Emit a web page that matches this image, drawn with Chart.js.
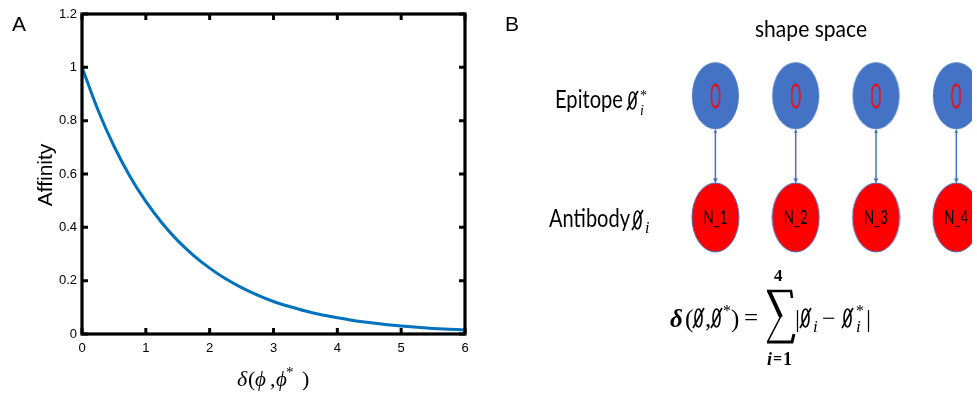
<!DOCTYPE html>
<html>
<head>
<meta charset="utf-8">
<script src="https://cdn.jsdelivr.net/npm/chart.js@4"></script>
<style>
  body { margin: 0; background: #fff; width: 977px; height: 394px; overflow: hidden; position: relative; }
  #boxA { position: absolute; left: 0; top: 0; width: 490px; height: 394px; }
  #boxB { position: absolute; left: 490px; top: 0; width: 487px; height: 394px; }
</style>
</head>
<body>
<div id="boxA"><canvas id="chartA" width="490" height="394"></canvas></div>
<div id="boxB"><canvas id="chartB" width="487" height="394"></canvas></div>
<script>
// panel A: affinity vs distance
const delta = [0, 0.25, 0.5, 0.75, 1, 1.25, 1.5, 1.75, 2, 2.25, 2.5, 2.75, 3,
  3.25, 3.5, 3.75, 4, 4.25, 4.5, 4.75, 5, 5.25, 5.5, 5.75, 6];
const affinity = [1.0, 0.84, 0.705, 0.592, 0.497, 0.417, 0.35, 0.294, 0.247, 0.207, 0.174, 0.146, 0.122,
  0.103, 0.086, 0.072, 0.061, 0.051, 0.043, 0.036, 0.03, 0.025, 0.021, 0.018, 0.015];
const xTicks = [0, 1, 2, 3, 4, 5, 6];
const yTicks = [0, 0.2, 0.4, 0.6, 0.8, 1, 1.2];

// panel B: shape space nodes
const nodes = [1, 2, 3, 4];
const epitopeRow = [1, 1, 1, 1];
const antibodyRow = [0, 0, 0, 0];
const epitopeText = ["0", "0", "0", "0"];
const antibodyText = ["N_1", "N_2", "N_3", "N_4"];

const SANS = '"Liberation Sans", Arial, sans-serif';
const SERIF = '"Liberation Serif", "DejaVu Serif", serif';
const CAL = 'Lato, "Open Sans", sans-serif';

// draw text squeezed to a given width (Calibri-like look)
function fitText(ctx, text, x, y, w, font, align) {
  ctx.font = font;
  const s = w / ctx.measureText(text).width;
  ctx.save();
  ctx.translate(x, y);
  ctx.scale(s, 1);
  ctx.textAlign = align || "left";
  ctx.fillText(text, 0, 0);
  ctx.restore();
}

// slashed empty-set sign
function drawEmpty(ctx, x, base, w, h) {
  ctx.save();
  ctx.lineWidth = 1.6;
  ctx.beginPath();
  ctx.ellipse(x + w / 2, base - h / 2, w / 2 - 1, h / 2, 0, 0, Math.PI * 2);
  ctx.moveTo(x - 1, base + 1);
  ctx.lineTo(x + w + 1, base - h - 1);
  ctx.stroke();
  ctx.restore();
}

function txt(ctx, t, x, y, font) {
  ctx.font = font;
  ctx.fillText(t, x, y);
}

// ---- chart A ----
const frameA = {
  id: "frameA",
  afterDraw(chart) {
    const { ctx, chartArea: a, scales: { x, y } } = chart;
    ctx.save();
    ctx.strokeStyle = "#000";
    ctx.lineWidth = 3.2;
    ctx.strokeRect(a.left, a.top, a.right - a.left, a.bottom - a.top);
    ctx.lineWidth = 3;
    ctx.beginPath();
    xTicks.forEach(v => {
      const px = x.getPixelForValue(v);
      ctx.moveTo(px, a.bottom); ctx.lineTo(px, a.bottom - 6);
      ctx.moveTo(px, a.top); ctx.lineTo(px, a.top + 6);
    });
    yTicks.forEach(v => {
      const py = y.getPixelForValue(v);
      ctx.moveTo(a.left, py); ctx.lineTo(a.left + 6, py);
      ctx.moveTo(a.right, py); ctx.lineTo(a.right - 6, py);
    });
    ctx.stroke();

    ctx.fillStyle = "#000";
    ctx.textBaseline = "alphabetic";
    txt(ctx, "A", 12, 31, "21px " + SANS);

    ctx.save();
    ctx.translate(52, 175);
    ctx.rotate(-Math.PI / 2);
    ctx.textAlign = "center";
    txt(ctx, "Affinity", 0, 0, "21px " + SANS);
    ctx.restore();

    // x title  δ(ϕ,ϕ* )
    const b = 386;
    txt(ctx, "δ", 237, b, "italic 22px " + SERIF);
    txt(ctx, "(", 248, b, "22px " + SERIF);
    txt(ctx, "ϕ", 255, b, "italic 21px " + SERIF);
    txt(ctx, ",", 270, b, "22px " + SERIF);
    txt(ctx, "ϕ", 276, b, "italic 21px " + SERIF);
    txt(ctx, "*", 286, b - 9, "15px " + SERIF);
    txt(ctx, ")", 302, b, "22px " + SERIF);
    ctx.restore();
  }
};

new Chart(document.getElementById("chartA"), {
  type: "line",
  data: {
    datasets: [{
      data: delta.map((d, i) => ({ x: d, y: affinity[i] })),
      borderColor: "#0072BD",
      borderWidth: 3,
      pointRadius: 0,
      cubicInterpolationMode: "monotone",
      fill: false
    }]
  },
  options: {
    responsive: false,
    animation: false,
    events: [],
    layout: { padding: { top: 14, right: 25, left: 0, bottom: 0 } },
    plugins: { legend: { display: false }, tooltip: { enabled: false } },
    scales: {
      x: {
        type: "linear", min: 0, max: 6,
        afterBuildTicks: s => { s.ticks = xTicks.map(v => ({ value: v })); },
        afterFit: s => { s.height = 60; },
        grid: { display: false, drawTicks: false },
        border: { display: false },
        ticks: { padding: 7, color: "#000", maxRotation: 0, font: { family: SANS, size: 13 }, callback: v => String(v) }
      },
      y: {
        min: 0, max: 1.2,
        afterBuildTicks: s => { s.ticks = yTicks.map(v => ({ value: v })); },
        afterFit: s => { s.width = 82; },
        grid: { display: false, drawTicks: false },
        border: { display: false },
        ticks: { padding: 5, color: "#000", font: { family: SANS, size: 13 }, callback: v => String(v) }
      }
    }
  },
  plugins: [frameA]
});

// ---- chart B ----
function ellipseImg(fill, stroke, w, h) {
  const c = document.createElement("canvas");
  c.width = w + 2; c.height = h + 2;
  const g = c.getContext("2d");
  g.beginPath();
  g.ellipse(c.width / 2, c.height / 2, w / 2, h / 2, 0, 0, Math.PI * 2);
  g.fillStyle = fill;
  g.fill();
  if (stroke) { g.strokeStyle = stroke; g.lineWidth = 1; g.stroke(); }
  return c;
}

const diagramB = {
  id: "diagramB",
  beforeDatasetsDraw(chart) {
    const { ctx, scales: { x, y } } = chart;
    ctx.save();
    ctx.strokeStyle = "#4472C4";
    ctx.fillStyle = "#4472C4";
    ctx.lineWidth = 1.5;
    nodes.forEach((n, i) => {
      const px = x.getPixelForValue(n);
      const top = y.getPixelForValue(epitopeRow[i]) + 34;
      const bot = y.getPixelForValue(antibodyRow[i]) - 35;
      ctx.beginPath();
      ctx.moveTo(px, top); ctx.lineTo(px, bot);
      ctx.stroke();
      ctx.beginPath();
      ctx.moveTo(px - 2.5, bot - 4); ctx.lineTo(px + 2.5, bot - 4); ctx.lineTo(px, bot);
      ctx.fill();
      ctx.beginPath();
      ctx.moveTo(px - 2, top + 3); ctx.lineTo(px + 2, top + 3); ctx.lineTo(px, top);
      ctx.fill();
    });
    ctx.restore();
  },
  afterDatasetsDraw(chart) {
    const { ctx, scales: { x, y } } = chart;
    ctx.save();
    ctx.textBaseline = "alphabetic";
    nodes.forEach((n, i) => {
      const px = x.getPixelForValue(n);
      const ey = y.getPixelForValue(epitopeRow[i]);
      ctx.save();
      ctx.font = "300 33px " + CAL;
      ctx.translate(px, ey + 12);
      ctx.scale(0.55, 1);
      ctx.textAlign = "center";
      ctx.strokeStyle = "#FF0000";
      ctx.lineWidth = 1.1;
      ctx.strokeText(epitopeText[i], 0, 0);
      ctx.restore();
      const ay = y.getPixelForValue(antibodyRow[i]);
      ctx.fillStyle = "#000";
      fitText(ctx, antibodyText[i], px, ay + 7, 24, "19px " + CAL, "center");
    });

    const o = 490; // page offset of this canvas
    ctx.fillStyle = "#000";
    ctx.strokeStyle = "#000";
    txt(ctx, "B", 505 - o, 31, "21px " + SANS);
    fitText(ctx, "shape space", 755 - o, 37, 112, "24px " + CAL);

    // Epitope ∅i*
    fitText(ctx, "Epitope", 555 - o, 108, 68, "25px " + CAL);
    drawEmpty(ctx, 628 - o, 109, 9, 17);
    txt(ctx, "i", 640 - o, 115, "italic 14px " + SERIF);
    txt(ctx, "*", 640 - o, 100, "14px " + SERIF);

    // Antibody ∅i
    fitText(ctx, "Antibody", 549 - o, 227, 81, "25px " + CAL);
    drawEmpty(ctx, 633 - o, 229, 9, 18);
    txt(ctx, "i", 645 - o, 233, "italic 16px " + SERIF);

    // formula
    const b = 327;
    txt(ctx, "δ", 670 - o, b, "bold italic 25px " + SERIF);
    txt(ctx, "(", 685 - o, b, "25px " + SERIF);
    drawEmpty(ctx, 694 - o, b, 9, 18);
    txt(ctx, ",", 705 - o, b, "25px " + SERIF);
    drawEmpty(ctx, 712 - o, b, 9, 18);
    txt(ctx, "*", 723 - o, b - 11, "16px " + SERIF);
    txt(ctx, ")", 731 - o, b, "25px " + SERIF);
    txt(ctx, "=", 744 - o, b - 1, "25px " + SERIF);

    // sigma
    ctx.save();
    ctx.translate(-o, 0);
    ctx.lineCap = "butt";
    ctx.beginPath();
    ctx.moveTo(767, 291); ctx.lineTo(791, 291); ctx.lineTo(792, 298);
    ctx.lineWidth = 2.5; ctx.stroke();
    ctx.beginPath();
    ctx.moveTo(769, 291); ctx.lineTo(781, 317);
    ctx.lineWidth = 4; ctx.stroke();
    ctx.beginPath();
    ctx.moveTo(781, 316); ctx.lineTo(768, 341);
    ctx.lineWidth = 1.6; ctx.stroke();
    ctx.beginPath();
    ctx.moveTo(767, 342); ctx.lineTo(792, 342); ctx.lineTo(794, 334);
    ctx.lineWidth = 3; ctx.stroke();
    ctx.restore();
    txt(ctx, "4", 774 - o, 281, "bold 17px " + SERIF);
    txt(ctx, "i", 767 - o, 365, "bold italic 18px " + SERIF);
    txt(ctx, "=", 773 - o, 364, "bold 16px " + SERIF);
    txt(ctx, "1", 783 - o, 365, "bold 18px " + SERIF);

    txt(ctx, "|", 795 - o, b, "25px " + SERIF);
    drawEmpty(ctx, 801 - o, b, 9, 18);
    txt(ctx, "i", 813 - o, b + 5, "italic 17px " + SERIF);
    txt(ctx, "−", 822 - o, b - 1, "24px " + SERIF);
    drawEmpty(ctx, 843 - o, b, 9, 18);
    txt(ctx, "i", 856 - o, b + 5, "italic 17px " + SERIF);
    txt(ctx, "*", 856 - o, b - 11, "16px " + SERIF);
    txt(ctx, "|", 866 - o, b, "25px " + SERIF);
    ctx.restore();
  }
};

new Chart(document.getElementById("chartB"), {
  type: "scatter",
  data: {
    datasets: [
      {
        data: nodes.map((n, i) => ({ x: n, y: epitopeRow[i] })),
        pointStyle: ellipseImg("#4472C4", null, 47, 67)
      },
      {
        data: nodes.map((n, i) => ({ x: n, y: antibodyRow[i] })),
        pointStyle: ellipseImg("#FF0000", "#4472C4", 47, 69)
      }
    ]
  },
  options: {
    responsive: false,
    animation: false,
    events: [],
    layout: { padding: 0 },
    plugins: { legend: { display: false }, tooltip: { enabled: false } },
    scales: {
      x: { display: false, min: -1.744, max: 4.195 },
      y: { display: false, min: -1.408, max: 1.744 }
    }
  },
  plugins: [diagramB]
});
</script>
</body>
</html>
